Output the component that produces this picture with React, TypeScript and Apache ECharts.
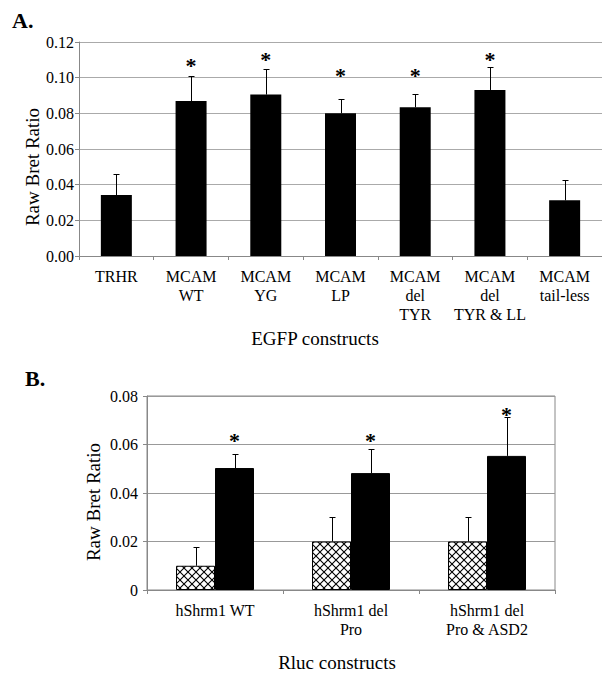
import React, { useEffect, useRef } from 'react';
import * as echarts from 'echarts';

// ---------- Panel A data ----------
const categoriesA = ['TRHR', 'MCAM\nWT', 'MCAM\nYG', 'MCAM\nLP', 'MCAM\ndel\nTYR', 'MCAM\ndel\nTYR & LL', 'MCAM\ntail-less'];
const meansA = [0.0342, 0.0869, 0.0905, 0.0800, 0.0834, 0.0931, 0.0312];
const errTopA = [0.0458, 0.1011, 0.1050, 0.0880, 0.0910, 0.1060, 0.0424];
const starsA: (number | null)[] = [null, 0.1088, 0.1127, 0.1035, 0.1035, 0.1124, null];
const yMaxA = 0.12;
const yStepA = 0.02;

// ---------- Panel B data ----------
const categoriesB = ['hShrm1 WT', 'hShrm1 del\nPro', 'hShrm1 del\nPro & ASD2'];
const controlB = [0.010, 0.020, 0.020];
const controlErrTopB = [0.0179, 0.0301, 0.0301];
const bretB = [0.0503, 0.0482, 0.0553];
const bretErrTopB = [0.0562, 0.0583, 0.0712];
const starsB: (number | null)[] = [0.0632, 0.0632, 0.0742];
const yMaxB = 0.08;
const yStepB = 0.02;

const FONT = 'Liberation Serif, Times New Roman, serif';

function makeHatch() {
  const c = document.createElement('canvas');
  c.width = 8;
  c.height = 8;
  const ctx = c.getContext('2d')!;
  ctx.fillStyle = '#fff';
  ctx.fillRect(0, 0, 8, 8);
  ctx.strokeStyle = '#000';
  ctx.lineWidth = 1.1;
  ctx.beginPath();
  ctx.moveTo(-1, -1);
  ctx.lineTo(9, 9);
  ctx.moveTo(9, -1);
  ctx.lineTo(-1, 9);
  ctx.stroke();
  return c.toDataURL();
}

function errorSeries(xIdx: number, means: number[], tops: number[], offset: number) {
  return {
    type: 'custom',
    xAxisIndex: xIdx,
    yAxisIndex: xIdx,
    silent: true,
    z: 4,
    data: means.map((m, i) => [i, m, tops[i]]),
    renderItem: (_p: any, api: any) => {
      const p0 = api.coord([api.value(0), api.value(1)]);
      const p1 = api.coord([api.value(0), api.value(2)]);
      const x = Math.round(p0[0] + offset) + 0.5;
      const yt = Math.round(p1[1]) + 0.5;
      return {
        type: 'group',
        children: [
          { type: 'line', shape: { x1: x, y1: p0[1], x2: x, y2: yt }, style: { stroke: '#000', lineWidth: 1 } },
          { type: 'line', shape: { x1: x - 3, y1: yt, x2: x + 3, y2: yt }, style: { stroke: '#000', lineWidth: 1 } },
        ],
      };
    },
  };
}

function starSeries(xIdx: number, stars: (number | null)[], offset: number) {
  return {
    type: 'custom',
    xAxisIndex: xIdx,
    yAxisIndex: xIdx,
    silent: true,
    z: 5,
    data: stars.map((s, i) => (s == null ? [i, '-'] : [i, s])),
    renderItem: (_p: any, api: any) => {
      const v = api.value(1);
      if (v == null || isNaN(v)) return null;
      const p = api.coord([api.value(0), v]);
      return {
        type: 'text',
        x: p[0] + offset,
        y: p[1] + 4,
        style: {
          text: '*',
          fontSize: 22,
          fontWeight: 'bold',
          fontFamily: FONT,
          fill: '#000',
          align: 'center',
          verticalAlign: 'middle',
        },
      };
    },
  };
}

export default function App() {
  const ref = useRef<HTMLDivElement>(null);

  useEffect(() => {
    if (!ref.current) return;
    const chart = echarts.init(ref.current, undefined, { renderer: 'svg' });
    const hatch = makeHatch();

    const axisLabelBase = { color: '#000', fontFamily: FONT, fontSize: 16 };

    const option: any = {
      animation: false,
      backgroundColor: '#fff',
      textStyle: { fontFamily: FONT },
      grid: [
        { left: 79, top: 42, width: 524, height: 214, containLabel: false },
        { left: 147, top: 396, width: 408, height: 194, containLabel: false, show: true, borderColor: '#888', borderWidth: 1, backgroundColor: 'transparent' },
      ],
      xAxis: [
        {
          type: 'category',
          gridIndex: 0,
          data: categoriesA,
          axisLine: { lineStyle: { color: '#888', width: 1 } },
          axisTick: { show: true, length: 4, lineStyle: { color: '#888' } },
          axisLabel: { ...axisLabelBase, interval: 0, margin: 11, lineHeight: 19 },
        },
        {
          type: 'category',
          gridIndex: 1,
          data: categoriesB,
          axisLine: { lineStyle: { color: '#888', width: 1 } },
          axisTick: { show: true, length: 4, lineStyle: { color: '#888' } },
          axisLabel: { ...axisLabelBase, interval: 0, margin: 11, lineHeight: 19 },
        },
      ],
      yAxis: [
        {
          type: 'value',
          gridIndex: 0,
          min: 0,
          max: yMaxA,
          interval: yStepA,
          axisLine: { show: true, lineStyle: { color: '#888' } },
          axisTick: { show: true, length: 4, lineStyle: { color: '#888' } },
          splitLine: { show: true, lineStyle: { color: '#aaa', width: 1 } },
          axisLabel: {
            ...axisLabelBase,
            margin: 5,
            padding: [0, 0, 4, 0],
            formatter: (v: number) => v.toFixed(2),
          },
        },
        {
          type: 'value',
          gridIndex: 1,
          min: 0,
          max: yMaxB,
          interval: yStepB,
          axisLine: { show: true, lineStyle: { color: '#888' } },
          axisTick: { show: true, length: 4, lineStyle: { color: '#888' } },
          splitLine: { show: true, lineStyle: { color: '#999', width: 1 } },
          axisLabel: {
            ...axisLabelBase,
            margin: 9,
            padding: [10, 0, 0, 0],
            formatter: (v: number) => (v === 0 ? '0' : v.toFixed(2)),
          },
        },
      ],
      series: [
        {
          type: 'bar',
          xAxisIndex: 0,
          yAxisIndex: 0,
          data: meansA,
          barWidth: 31,
          itemStyle: { color: '#000' },
          silent: true,
        },
        errorSeries(0, meansA, errTopA, 0),
        starSeries(0, starsA, 0),
        {
          type: 'bar',
          xAxisIndex: 1,
          yAxisIndex: 1,
          data: controlB,
          barWidth: 39,
          barGap: '0%',
          itemStyle: {
            color: { image: hatch, repeat: 'repeat', imageWidth: 8, imageHeight: 8 },
            borderColor: '#000',
            borderWidth: 1,
          },
          silent: true,
        },
        {
          type: 'bar',
          xAxisIndex: 1,
          yAxisIndex: 1,
          data: bretB,
          barWidth: 39,
          barGap: '0%',
          itemStyle: { color: '#000', borderColor: '#000', borderWidth: 1 },
          silent: true,
        },
        errorSeries(1, controlB, controlErrTopB, -19.5),
        errorSeries(1, bretB, bretErrTopB, 19.5),
        starSeries(1, starsB, 19.5),
      ],
      graphic: [
        {
          type: 'text', x: 12, y: 20, silent: true,
          style: { text: 'A.', fontSize: 22, fontWeight: 'bold', fontFamily: FONT, fill: '#000', align: 'left', verticalAlign: 'middle' },
        },
        {
          type: 'text', x: 25, y: 378, silent: true,
          style: { text: 'B.', fontSize: 22, fontWeight: 'bold', fontFamily: FONT, fill: '#000', align: 'left', verticalAlign: 'middle' },
        },
        {
          type: 'text', x: 32, y: 167, rotation: Math.PI / 2, silent: true,
          style: { text: 'Raw Bret Ratio', fontSize: 19, fontFamily: FONT, fill: '#000', align: 'center', verticalAlign: 'middle' },
        },
        {
          type: 'text', x: 93, y: 502, rotation: Math.PI / 2, silent: true,
          style: { text: 'Raw Bret Ratio', fontSize: 19, fontFamily: FONT, fill: '#000', align: 'center', verticalAlign: 'middle' },
        },
        {
          type: 'text', x: 315, y: 338, silent: true,
          style: { text: 'EGFP constructs', fontSize: 19, fontFamily: FONT, fill: '#000', align: 'center', verticalAlign: 'middle' },
        },
        {
          type: 'text', x: 337, y: 662, silent: true,
          style: { text: 'Rluc constructs', fontSize: 19, fontFamily: FONT, fill: '#000', align: 'center', verticalAlign: 'middle' },
        },
      ],
    };

    chart.setOption(option);
    return () => chart.dispose();
  }, []);

  return (
    <div
      ref={ref}
      style={{ position: 'absolute', left: 0, top: 0, width: 602, height: 673, background: '#fff' }}
    />
  );
}
